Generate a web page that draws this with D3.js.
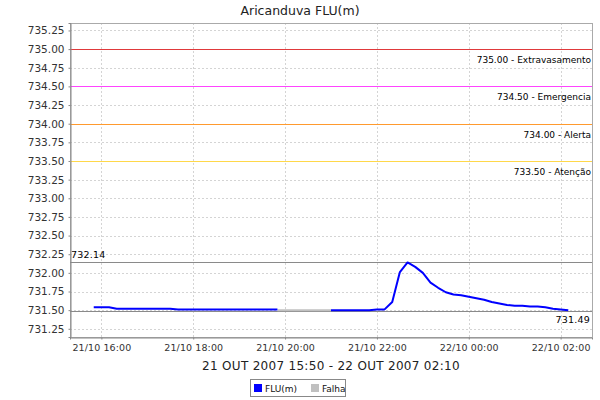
<!DOCTYPE html>
<html><head><meta charset="utf-8">
<script src="https://cdn.jsdelivr.net/npm/d3@7"></script>
<style>
body{margin:0;background:#fff;}
text{font-family:"DejaVu Sans",sans-serif;}
</style></head>
<body><svg id="c" width="600" height="400"></svg>
<script>
const title = "Aricanduva FLU(m)";
const xLabel = "21 OUT 2007 15:50 - 22 OUT 2007 02:10";
const fluTimes = ["2007-10-21T15:50","2007-10-21T16:00","2007-10-21T16:10","2007-10-21T16:20","2007-10-21T16:30","2007-10-21T16:40","2007-10-21T16:50","2007-10-21T17:00","2007-10-21T17:10","2007-10-21T17:20","2007-10-21T17:30","2007-10-21T17:40","2007-10-21T17:50","2007-10-21T18:00","2007-10-21T18:10","2007-10-21T18:20","2007-10-21T18:30","2007-10-21T18:40","2007-10-21T18:50","2007-10-21T19:00","2007-10-21T19:10","2007-10-21T19:20","2007-10-21T19:30","2007-10-21T19:40","2007-10-21T19:50","2007-10-21T20:30","2007-10-21T21:00","2007-10-21T21:10","2007-10-21T21:20","2007-10-21T21:30","2007-10-21T21:40","2007-10-21T21:50","2007-10-21T22:00","2007-10-21T22:10","2007-10-21T22:20","2007-10-21T22:30","2007-10-21T22:40","2007-10-21T22:50","2007-10-21T23:00","2007-10-21T23:10","2007-10-21T23:20","2007-10-21T23:30","2007-10-21T23:40","2007-10-21T23:50","2007-10-22T00:00","2007-10-22T00:10","2007-10-22T00:20","2007-10-22T00:30","2007-10-22T00:40","2007-10-22T00:50","2007-10-22T01:00","2007-10-22T01:10","2007-10-22T01:20","2007-10-22T01:30","2007-10-22T01:40","2007-10-22T01:50","2007-10-22T02:00","2007-10-22T02:10"];
const fluValues = [731.54,731.54,731.54,731.52,731.52,731.52,731.52,731.52,731.52,731.52,731.52,731.51,731.51,731.51,731.51,731.51,731.51,731.51,731.51,731.51,731.51,731.51,731.51,731.51,731.51,null,731.50,731.50,731.50,731.50,731.50,731.50,731.51,731.51,731.61,732.01,732.14,732.08,732.00,731.87,731.80,731.74,731.71,731.70,731.68,731.66,731.64,731.61,731.59,731.57,731.56,731.56,731.55,731.55,731.54,731.52,731.51,731.50];
const falhaTimes = ["2007-10-21T19:50","2007-10-21T21:00"];
const falhaValues = [731.50,731.50];
const thresholdValues = [735.00,734.50,734.00,733.50];
const thresholdNames = ["Extravasamento","Emergencia","Alerta","Atenção"];
const thresholdColors = ["#e0393b","#ff44ff","#ff9a2e","#ffd84a"];
const maxValue = 732.14, minValue = 731.49;
const yTicks = [731.25,731.50,731.75,732.00,732.25,732.50,732.75,733.00,733.25,733.50,733.75,734.00,734.25,734.50,734.75,735.00,735.25];
const xTicks = ["2007-10-21T16:00","2007-10-21T18:00","2007-10-21T20:00","2007-10-21T22:00","2007-10-22T00:00","2007-10-22T02:00"];
const legendNames = ["FLU(m)","Falha"];
const legendColors = ["#0000ff","#c0c0c0"];

const parse = d3.timeParse("%Y-%m-%dT%H:%M");
const svg = d3.select("#c");
const L=70, R=592, T=23, B=337;
const t0 = parse(fluTimes[0]), t1 = parse(fluTimes[fluTimes.length-1]);
const pad = (t1 - t0) * 0.05;
const x = d3.scaleTime().domain([new Date(+t0 - pad), new Date(+t1 + pad)]).range([L, R]);
const y = d3.scaleLinear().domain([731.14, 735.35]).range([B, T]);

svg.append("text").attr("x",300).attr("y",15).attr("text-anchor","middle")
  .attr("font-size",12.5).attr("fill","#222").text(title);

// grid
const g = svg.append("g");
g.selectAll("line.gy").data(yTicks).join("line")
  .attr("x1",L).attr("x2",R).attr("y1",d=>Math.round(y(d))+0.5).attr("y2",d=>Math.round(y(d))+0.5)
  .attr("stroke","#d4d4d4").attr("stroke-dasharray","2,2");
g.selectAll("line.gx").data(xTicks).join("line")
  .attr("y1",T).attr("y2",B).attr("x1",d=>Math.round(x(parse(d)))+0.5).attr("x2",d=>Math.round(x(parse(d)))+0.5)
  .attr("stroke","#d4d4d4").attr("stroke-dasharray","2,2");

// plot border
svg.append("rect").attr("x",L+0.5).attr("y",T+0.5).attr("width",R-L).attr("height",B-T)
  .attr("fill","none").attr("stroke","#aaaaaa");

// thresholds
thresholdValues.forEach((v,i)=>{
  const yy = Math.round(y(v))+0.5;
  svg.append("line").attr("x1",L).attr("x2",R).attr("y1",yy).attr("y2",yy).attr("stroke",thresholdColors[i]).attr("stroke-width",1);
  svg.append("text").attr("x",R-1).attr("y",yy+13).attr("text-anchor","end").attr("font-size",9)
    .attr("fill","#000").text(v.toFixed(2)+" - "+thresholdNames[i]);
});

// max/min marker lines
[maxValue,minValue].forEach(v=>{
  const yy = Math.round(y(v))+0.5;
  svg.append("line").attr("x1",L).attr("x2",R).attr("y1",yy).attr("y2",yy).attr("stroke","#8a8a8a").attr("stroke-width",1.2);
});
svg.append("text").attr("x",L+1).attr("y",y(maxValue)-4).attr("font-size",9.5).attr("letter-spacing","0.2").text(maxValue.toFixed(2));
svg.append("text").attr("x",R-2).attr("y",y(minValue)+12).attr("text-anchor","end").attr("font-size",9.5).attr("letter-spacing","0.2").text(minValue.toFixed(2));

// series
const line = d3.line().defined(d=>d[1]!=null).x(d=>x(d[0])).y(d=>y(d[1]));
svg.append("path").datum(falhaTimes.map((t,i)=>[parse(t),falhaValues[i]]))
  .attr("d",line).attr("fill","none").attr("stroke","#c0c0c0").attr("stroke-width",2);
svg.append("path").datum(fluTimes.map((t,i)=>[parse(t),fluValues[i]]))
  .attr("d",line).attr("fill","none").attr("stroke","#0000ff").attr("stroke-width",2).attr("stroke-linejoin","round");

// axes
const ya = svg.append("g").attr("transform",`translate(${L+0.5},0)`)
  .call(d3.axisLeft(y).tickValues(yTicks).tickFormat(d3.format(".2f")).tickSize(2).tickPadding(4));
const xa = svg.append("g").attr("transform",`translate(0,${B+0.5})`)
  .call(d3.axisBottom(x).tickValues(xTicks.map(parse)).tickFormat(d3.timeFormat("%d/%m %H:%M")).tickSize(2).tickPadding(5));
[ya,xa].forEach(a=>{
  a.select(".domain").attr("stroke","#888");
  a.selectAll(".tick line").attr("stroke","#888");
  a.selectAll(".tick text").attr("font-family","DejaVu Sans").attr("fill","#333");
});
xa.selectAll(".tick text").attr("font-size",9.5).attr("letter-spacing","0.1");
ya.selectAll(".tick text").attr("font-size",10.5);

svg.append("text").attr("x",(L+R)/2).attr("y",370).attr("text-anchor","middle").attr("font-size",12)
  .attr("letter-spacing","0.3").attr("fill","#222").text(xLabel);

// legend
const lg = svg.append("g");
lg.append("rect").attr("x",250.5).attr("y",379.5).attr("width",95).attr("height",17).attr("fill","#fff").attr("stroke","#888");
const lx=[254,311];
legendNames.forEach((n,i)=>{
  lg.append("rect").attr("x",lx[i]).attr("y",384).attr("width",8).attr("height",8).attr("fill",legendColors[i]);
  lg.append("text").attr("x",lx[i]+11).attr("y",392).attr("font-size",9).attr("fill","#111").text(n);
});
</script></body></html>
